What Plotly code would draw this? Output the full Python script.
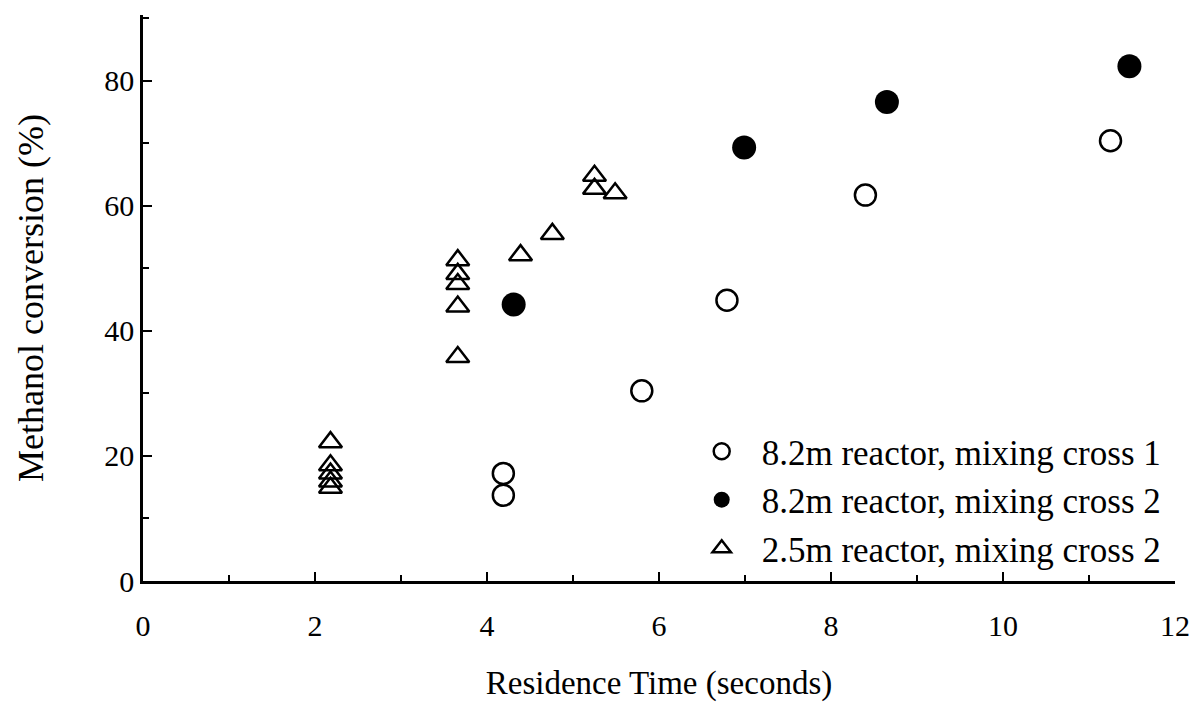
import plotly.graph_objects as go

# Residence time (s) and methanol conversion (%) for each reactor setup
mc1_time = [4.19, 4.19, 5.80, 6.79, 8.40, 11.25]
mc1_conv = [17.2, 13.7, 30.4, 44.9, 61.7, 70.4]

mc2_time = [4.31, 6.99, 8.65, 11.47]
mc2_conv = [44.2, 69.3, 76.6, 82.3]

short_time = [2.18, 2.18, 2.18, 2.18, 2.18,
              3.66, 3.66, 3.66, 3.66, 3.66,
              4.39, 4.76, 5.25, 5.25, 5.49]
short_conv = [22.2, 18.5, 17.2, 15.9, 14.9,
              51.3, 49.1, 47.5, 43.9, 35.8,
              52.1, 55.5, 64.8, 62.7, 62.0]

series_names = [
    "8.2m reactor, mixing cross 1",
    "8.2m reactor, mixing cross 2",
    "2.5m reactor, mixing cross 2",
]

FONT = "Liberation Serif"

fig = go.Figure()
fig.add_trace(go.Scatter(
    x=mc1_time, y=mc1_conv, mode="markers", name=series_names[0],
    marker=dict(symbol="circle-open", size=21, color="black",
                line=dict(width=2.5, color="black")),
))
fig.add_trace(go.Scatter(
    x=mc2_time, y=mc2_conv, mode="markers", name=series_names[1],
    marker=dict(symbol="circle", size=24, color="black",
                line=dict(width=0)),
))
fig.add_trace(go.Scatter(
    x=short_time, y=short_conv, mode="markers", name=series_names[2],
    marker=dict(symbol="triangle-up-open", size=20, color="black",
                line=dict(width=2.5, color="black")),
))

fig.update_layout(
    width=1192, height=702,
    margin=dict(l=143, r=17, t=15, b=121),
    paper_bgcolor="white", plot_bgcolor="white",
    font=dict(family=FONT, size=30, color="black"),
    showlegend=True,
    legend=dict(
        x=0.522, y=0.281, xanchor="left", yanchor="top",
        bgcolor="rgba(0,0,0,0)", borderwidth=0,
        font=dict(family=FONT, size=35, color="black"),
        tracegroupgap=0, itemsizing="trace", itemwidth=70,
    ),
)

fig.update_xaxes(
    range=[0, 12], dtick=2, tick0=0, automargin=False,
    showline=True, linecolor="black", linewidth=2.5,
    showgrid=False, zeroline=False,
    ticks="inside", ticklen=9, tickwidth=1.5, tickcolor="black",
    minor=dict(dtick=1, ticks="inside", ticklen=6, tickwidth=1.5,
               tickcolor="black", showgrid=False),
    ticklabelstandoff=16,
    tickfont=dict(family=FONT, size=30),
    title=dict(text="Residence Time (seconds)", standoff=36,
               font=dict(family=FONT, size=33)),
)
fig.update_yaxes(
    range=[0, 90.5], dtick=20, tick0=0, automargin=False,
    showline=True, linecolor="black", linewidth=2.5,
    showgrid=False, zeroline=False,
    ticks="inside", ticklen=9, tickwidth=1.5, tickcolor="black",
    minor=dict(dtick=10, ticks="inside", ticklen=6, tickwidth=1.5,
               tickcolor="black", showgrid=False),
    ticklabelstandoff=0,
    tickfont=dict(family=FONT, size=30),
    title=dict(text="Methanol conversion (%)", standoff=50,
               font=dict(family=FONT, size=36)),
)

fig.write_html("out.html")
